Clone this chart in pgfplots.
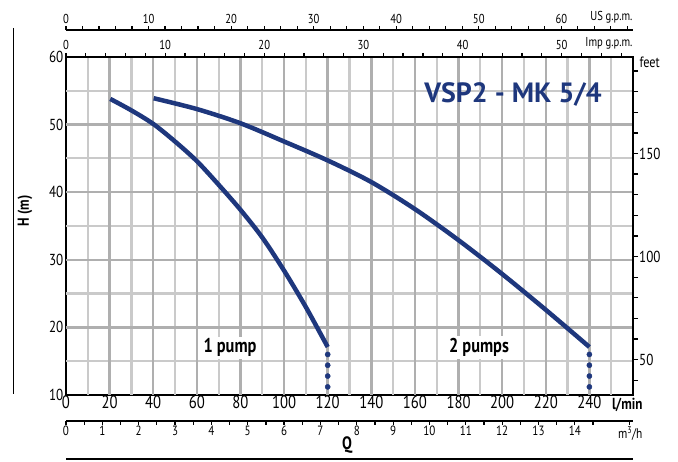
\documentclass[border=0pt]{standalone}
\usepackage{pgfplots}
\pgfplotsset{compat=1.18}
\usepackage{fontspec}
\setmainfont{PT Sans}[FakeStretch=0.82]
\newfontfamily\titlefont{PT Sans}
\definecolor{pumpblue}{RGB}{30,55,125}
\definecolor{gridmajor}{RGB}{175,175,175}
\definecolor{gridminor}{RGB}{202,202,202}

\begin{document}
\begin{tikzpicture}
\useasboundingbox (0,0) rectangle (678bp,462bp);
\pgfplotsset{every axis/.append style={scale only axis, width=567bp,
  /pgf/number format/assume math mode=true}}

% main grid with the H (m) scale and the l/min scale
\begin{axis}[at={(66bp,67bp)}, anchor=south west, height=338bp,
  xmin=0, xmax=260, ymin=10, ymax=60,
  xtick={0,20,...,240}, ytick={10,20,...,60},
  tick style={draw=none},
  axis line style={line width=2.4bp},
  xticklabel style={font=\fontsize{18}{18}\selectfont, inner sep=1bp},
  yticklabel style={font=\fontsize{16}{16}\selectfont, inner sep=2.5bp},
  clip=false]
% grid
\pgfplotsinvokeforeach{10,30,...,250}{
  \addplot[gridminor, line width=2.2bp] coordinates {(#1,10) (#1,60)};}
\pgfplotsinvokeforeach{15,25,35,45,55}{
  \addplot[gridminor, line width=2.2bp] coordinates {(0,#1) (260,#1)};}
\pgfplotsinvokeforeach{20,40,...,240}{
  \addplot[gridmajor, line width=2.4bp] coordinates {(#1,10) (#1,60)};}
\pgfplotsinvokeforeach{20,30,40,50}{
  \addplot[gridmajor, line width=2.4bp] coordinates {(0,#1) (260,#1)};}
% 1 pump
\addplot[pumpblue, line width=4.5bp, smooth] coordinates {
  (20.3,53.8) (30,52.1) (40,50.1) (50,47.5) (60,44.6) (70,41.1)
  (80,37.4) (90,33.3) (100,28.4) (110,23.0) (120,17.1)};
% 2 pumps
\addplot[pumpblue, line width=4.5bp, smooth] coordinates {
  (40.2,53.9) (60,52.3) (80,50.2) (100,47.5) (120,44.7) (140,41.5)
  (160,37.5) (180,32.9) (200,27.9) (220,22.6) (240,17.1)};
% dotted ends
\addplot[pumpblue, only marks, mark=*, mark size=2.6bp] coordinates {
  (120,16.0) (120,14.4) (120,12.8) (120,11.2)
  (240,16.0) (240,14.4) (240,12.8) (240,11.2)};
\end{axis}

% feet
\begin{axis}[at={(66bp,67bp)}, anchor=south west, height=338bp,
  xmin=0, xmax=1, ymin=32.8084, ymax=196.8504,
  hide x axis, axis y line*=right,
  ytick={40,50,...,190},
  yticklabels={,50,,,,,100,,,,,150,,,,},
  tick align=outside, major tick length=5bp,
  tick style={line width=1.3bp, black},
  axis line style={line width=2.4bp},
  yticklabel style={font=\fontsize{16}{16}\selectfont, inner sep=1bp}]
\end{axis}

% Imp g.p.m.
\begin{axis}[at={(66bp,67bp)}, anchor=south west, height=338bp,
  xmin=0, xmax=57.192, ymin=0, ymax=1,
  hide y axis, axis x line*=top,
  xtick={0,10,...,50}, minor xtick={2,4,...,56},
  tick align=outside, major tick length=4bp, minor tick length=4bp,
  tick style={line width=1.2bp, black},
  axis line style={line width=2.4bp},
  xticklabel style={font=\fontsize{13}{13}\selectfont, inner sep=3bp}]
\end{axis}

% US g.p.m.
\begin{axis}[at={(66bp,432bp)}, anchor=north west, height=20bp,
  xmin=0, xmax=68.685, ymin=0, ymax=1,
  hide y axis, axis x line*=top,
  xtick={0,10,...,60}, minor xtick={2,4,...,68},
  tick align=outside, major tick length=3.5bp, minor tick length=3.5bp,
  tick style={line width=1.2bp, black},
  axis line style={line width=1.5bp},
  xticklabel style={font=\fontsize{13}{13}\selectfont, inner sep=3bp}]
\end{axis}

% m3/h
\begin{axis}[at={(66bp,41bp)}, anchor=south west, height=20bp,
  xmin=0, xmax=15.6, ymin=0, ymax=1,
  hide y axis, axis x line*=bottom,
  xtick={0,1,...,14}, minor xtick={0.5,1.5,...,15.5},
  tick align=outside, major tick length=3.5bp, minor tick length=3.5bp,
  tick style={line width=1.2bp, black},
  axis line style={line width=1.5bp},
  xticklabel style={font=\fontsize{13.5}{13.5}\selectfont, inner sep=1.5bp}]
\end{axis}

\node[anchor=base, font=\titlefont\bfseries\fontsize{28}{28}\selectfont, text=pumpblue]
  at (513bp,359.3bp) {VSP2 - MK 5/4};
\node[anchor=base, fill=white, inner sep=2bp, font=\bfseries\fontsize{20}{20}\selectfont]
  at (230bp,109.3bp) {1 pump};
\node[anchor=base, fill=white, inner sep=2bp, font=\bfseries\fontsize{20}{20}\selectfont]
  at (479bp,109.3bp) {2 pumps};

\node[anchor=east, font=\bfseries\fontsize{16}{16}\selectfont] at (646bp,57bp) {l/min};
\node[anchor=east, font=\fontsize{14}{14}\selectfont] at (646bp,28.5bp) {m\textsuperscript{3}/h};
\node[anchor=east, font=\fontsize{13}{13}\selectfont] at (636bp,444.5bp) {US g.p.m.};
\node[anchor=east, font=\fontsize{13}{13}\selectfont] at (636bp,419bp) {Imp g.p.m.};
\node[anchor=west, font=\fontsize{15}{15}\selectfont] at (636bp,400bp) {feet};
\node[font=\bfseries\fontsize{18}{18}\selectfont] at (347bp,17bp) {Q};
\node[rotate=90, font=\bfseries\fontsize{16}{16}\selectfont] at (25bp,251bp) {H (m)};

\draw[line width=1.5bp] (66bp,3bp) -- (633bp,3bp);
\draw[line width=1.5bp] (13.5bp,434bp) -- (13.5bp,68bp);
\end{tikzpicture}
\end{document}
